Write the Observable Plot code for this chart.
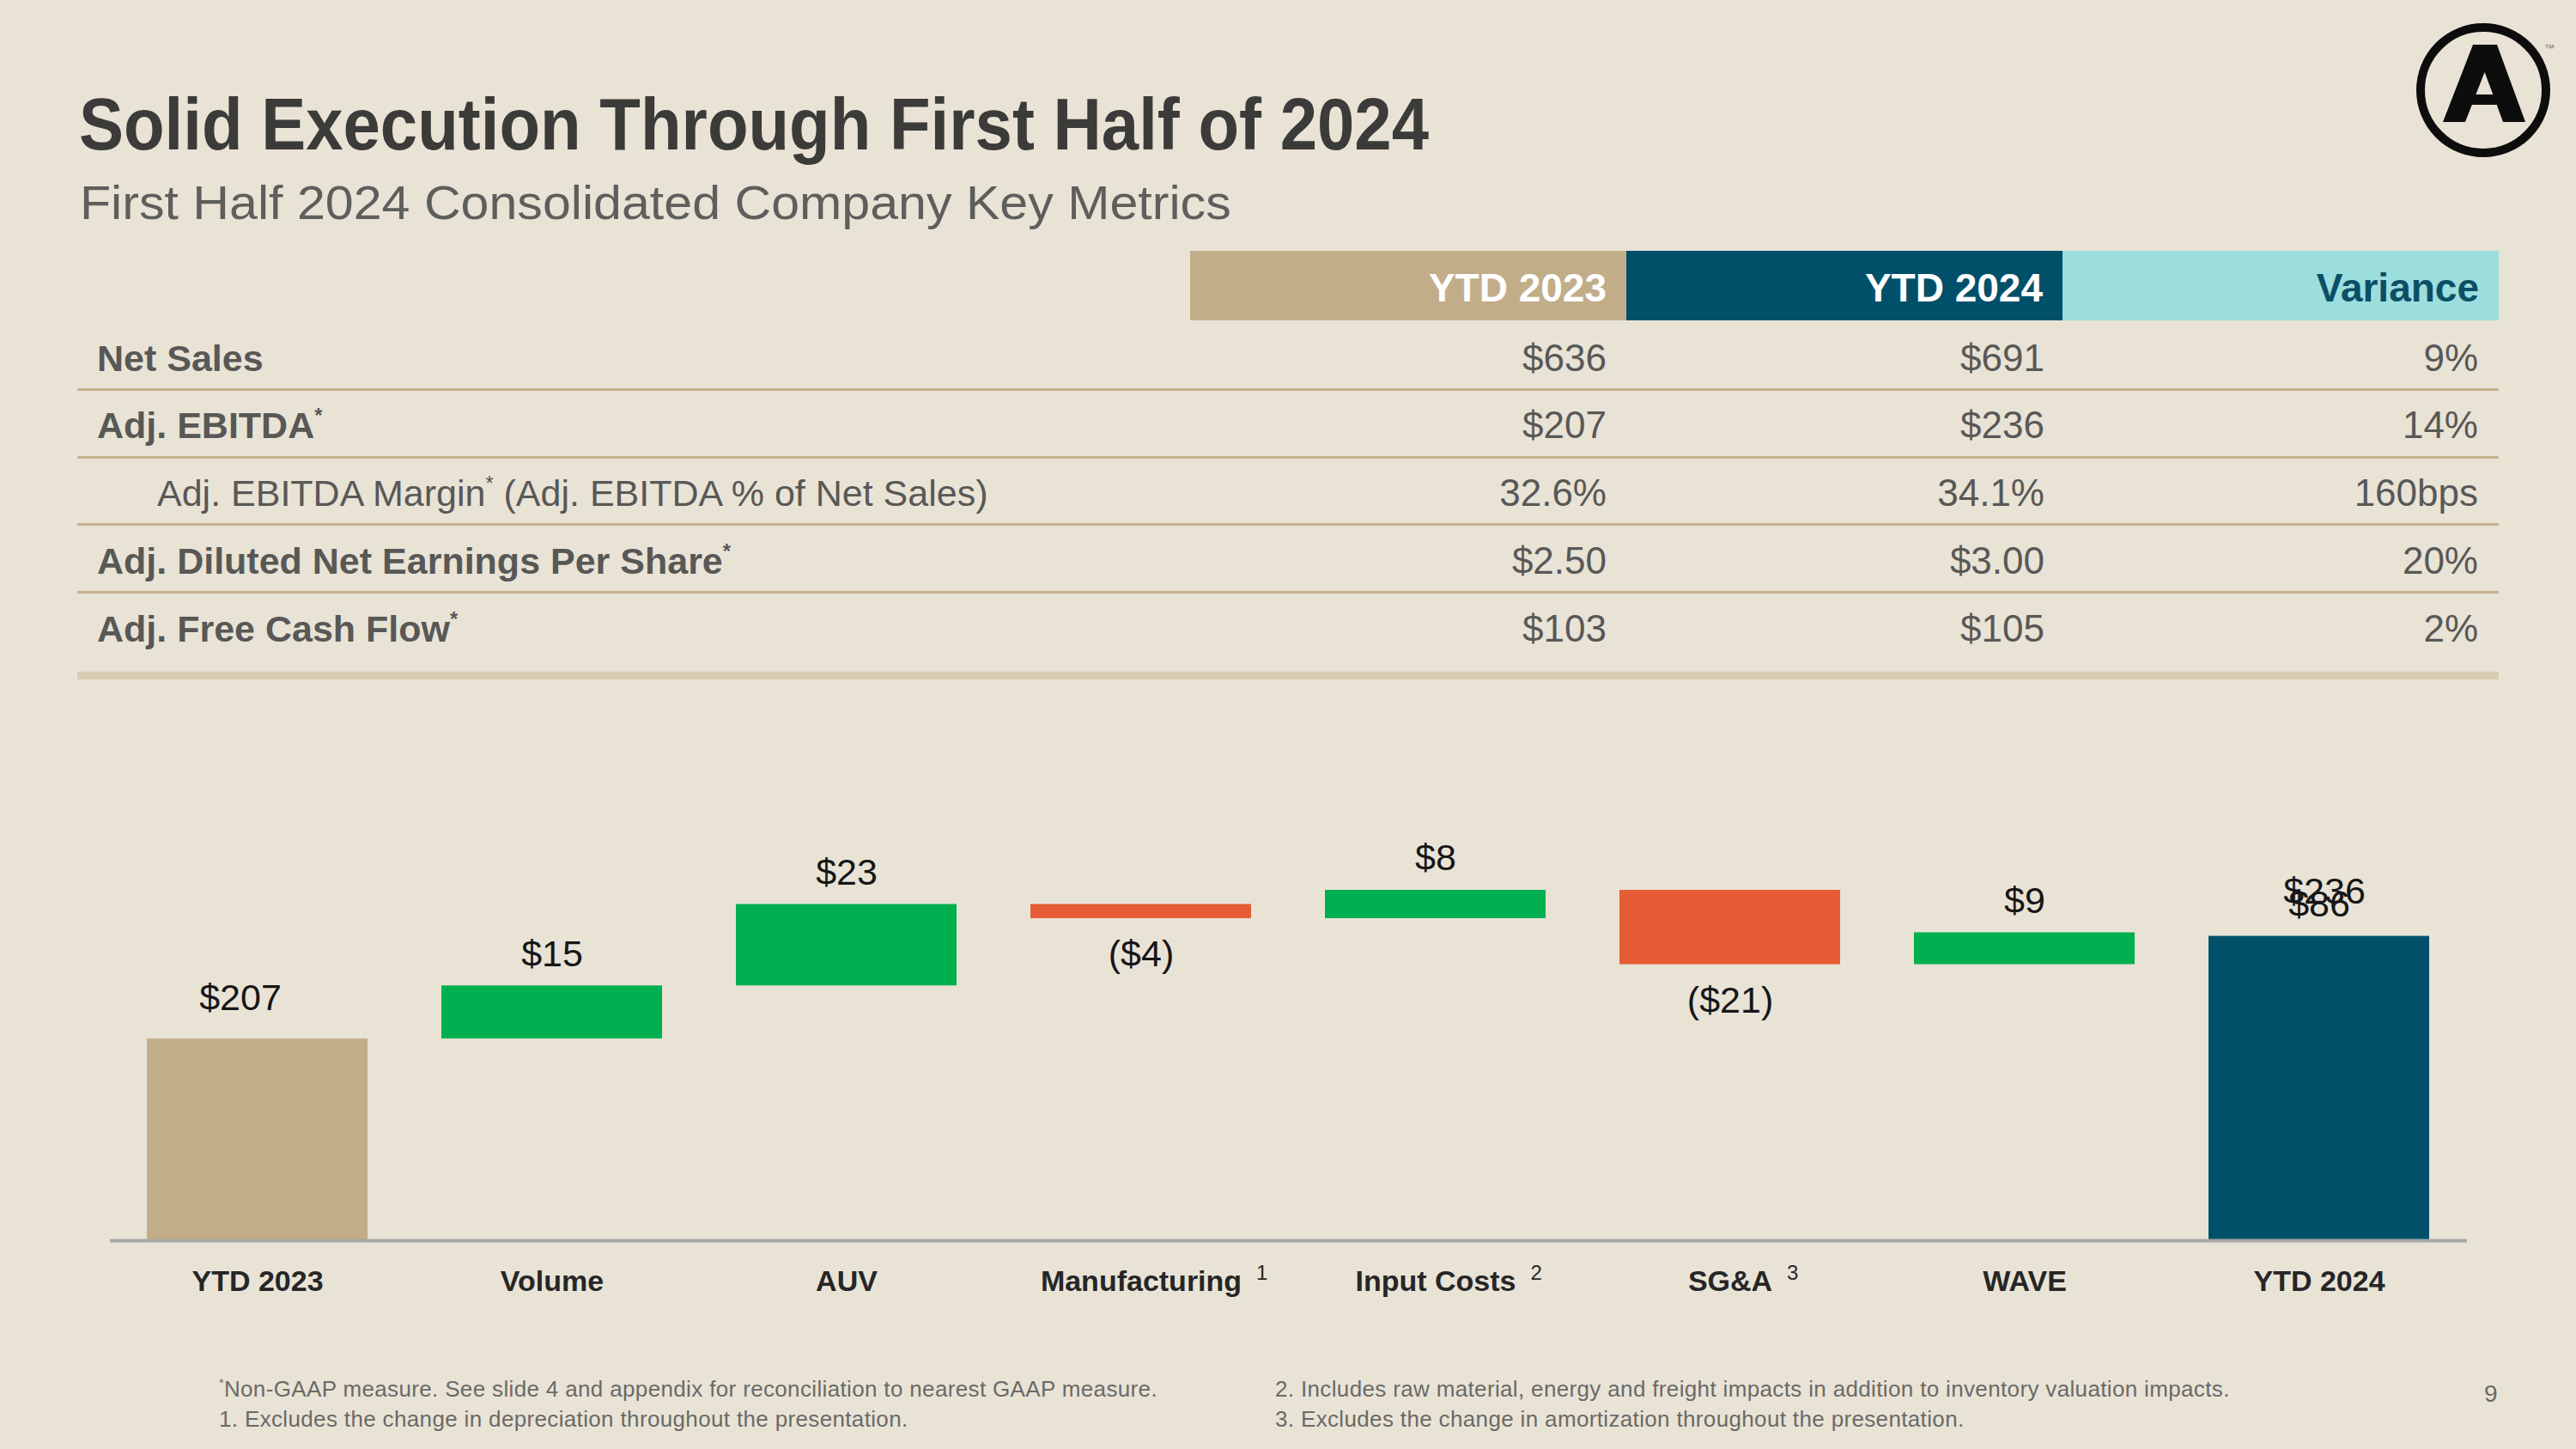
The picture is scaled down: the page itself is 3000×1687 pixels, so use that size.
<!DOCTYPE html>
<html>
<head>
<meta charset="utf-8">
<script src="https://cdn.jsdelivr.net/npm/d3@7"></script>
<script src="https://cdn.jsdelivr.net/npm/@observablehq/plot@0.6"></script>
<style>
  html, body { margin: 0; padding: 0; }
  body {
    width: 3000px; height: 1687px; position: relative; overflow: hidden;
    background: #e9e3d6;
    font-family: "Liberation Sans", sans-serif;
  }
  .abs { position: absolute; white-space: nowrap; line-height: 1; }
  sup { font-size: 0.55em; line-height: 0; vertical-align: 0.75em; }
  #title { left: 92px; top: 102px; font-size: 85px; font-weight: bold; color: #3b3b39;
           transform: scaleX(0.917); transform-origin: 0 0; }
  #subtitle { left: 93px; top: 209px; font-size: 55px; color: #5e5e5c;
              transform: scaleX(1.075); transform-origin: 0 0; }
  .hcell { position: absolute; top: 292px; height: 81px; line-height: 86px; text-align: right;
           box-sizing: border-box; padding-right: 23px; font-size: 46px; font-weight: bold; }
  .rowlabel { font-size: 43px; color: #585856; }
  .val { font-size: 44px; color: #585856; text-align: right; }
  .sep { position: absolute; left: 90px; width: 2820px; height: 3px; background: #c6b291; }
  #bottombar { position: absolute; left: 90px; width: 2820px; top: 782px; height: 9px; background: #d9ccb2; }
  .foot { font-size: 26px; letter-spacing: 0.35px; color: #6a6a66; }
  #chart { position: absolute; left: 0; top: 900px; }
</style>
</head>
<body>
<div id="title" class="abs">Solid Execution Through First Half of 2024</div>
<div id="subtitle" class="abs">First Half 2024 Consolidated Company Key Metrics</div>

<svg id="logo" width="3000" height="200" style="position:absolute;left:0;top:0;overflow:visible">
  <circle cx="2892" cy="105" r="73" fill="none" stroke="#0d0d0d" stroke-width="10"></circle>
  <path fill="#0d0d0d" fill-rule="evenodd"
        d="M2845,142 L2880,52 L2908,52 L2941,142 L2915,142 L2907.7,122 L2878.8,122 L2871,142 Z M2883.4,110 L2893.6,84 L2903.3,110 Z"></path>
  <text x="2963" y="60" font-family="Liberation Sans" font-size="12" fill="#777">™</text>
</svg>

<div id="table"></div>
<div id="chart"></div>
<div id="footer"></div>

<script>
// ---------- Table data ----------
const tableHeaders = ["YTD 2023", "YTD 2024", "Variance"];
const metricNames = ["Net Sales", "Adj. EBITDA", "Adj. EBITDA Margin", "Adj. Diluted Net Earnings Per Share", "Adj. Free Cash Flow"];
const metricAfterStar = ["", "", " (Adj. EBITDA % of Net Sales)", "", ""];
const metricStar = [false, true, true, true, true];
const metricBold = [true, true, false, true, true];
const metricIndent = [false, false, true, false, false];
const ytd2023Values = ["$636", "$207", "32.6%", "$2.50", "$103"];
const ytd2024Values = ["$691", "$236", "34.1%", "$3.00", "$105"];
const varianceValues = ["9%", "14%", "160bps", "20%", "2%"];

// ---------- Waterfall data ----------
const steps = ["YTD 2023", "Volume", "AUV", "Manufacturing", "Input Costs", "SG&A", "WAVE", "YTD 2024"];
const stepNotes = ["", "", "", "1", "2", "3", "", ""];
const stepValues = [207, 15, 23, -4, 8, -21, 9, 236];
const stepIsTotal = [true, false, false, false, false, false, false, true];
const axisMin = 150; // value axis starts at 150 (broken axis in the source)

// ---------- Footnotes ----------
const footLeft = ["Non-GAAP measure. See slide 4 and appendix for reconciliation to nearest GAAP measure.",
                  "1. Excludes the change in depreciation throughout the presentation."];
const footRight = ["2. Includes raw material, energy and freight impacts in addition to inventory valuation impacts.",
                   "3. Excludes the change in amortization throughout the presentation."];
const pageNumber = "9";

// ---------- Build table ----------
const table = document.getElementById("table");
const headerStyles = [
  {left: 1386, width: 508, bg: "#c2ad89", color: "#ffffff"},
  {left: 1894, width: 508, bg: "#00506a", color: "#ffffff"},
  {left: 2402, width: 508, bg: "#9cdedd", color: "#0b4f66"}
];
tableHeaders.forEach((h, i) => {
  const d = document.createElement("div");
  d.className = "hcell";
  d.style.left = headerStyles[i].left + "px";
  d.style.width = headerStyles[i].width + "px";
  d.style.background = headerStyles[i].bg;
  d.style.color = headerStyles[i].color;
  d.textContent = h;
  table.appendChild(d);
});
const rowBaselines = [432, 510, 589, 668, 747];
const valueRights = [1871, 2381, 2886];
const asc = 0.8465;
metricNames.forEach((name, i) => {
  const l = document.createElement("div");
  l.className = "abs rowlabel";
  l.style.left = (metricIndent[i] ? 183 : 113) + "px";
  l.style.top = (rowBaselines[i] - asc * 43) + "px";
  l.style.fontWeight = metricBold[i] ? "bold" : "normal";
  l.appendChild(document.createTextNode(name));
  if (metricStar[i]) { const s = document.createElement("sup"); s.textContent = "*"; l.appendChild(s); }
  if (metricAfterStar[i]) l.appendChild(document.createTextNode(metricAfterStar[i]));
  table.appendChild(l);
  [ytd2023Values, ytd2024Values, varianceValues].forEach((col, j) => {
    const v = document.createElement("div");
    v.className = "abs val";
    v.style.right = (3000 - valueRights[j]) + "px";
    v.style.top = (rowBaselines[i] - asc * 44) + "px";
    v.textContent = col[i];
    table.appendChild(v);
  });
});
[453, 532, 610, 689].forEach(y => {
  const s = document.createElement("div");
  s.className = "sep";
  s.style.top = (y - 1.5) + "px";
  table.appendChild(s);
});
const bb = document.createElement("div"); bb.id = "bottombar"; table.appendChild(bb);

// ---------- Build waterfall ----------
const fmt = v => v < 0 ? `($${Math.abs(v)})` : `$${v}`;
let running = 0;
const bars = steps.map((s, i) => {
  const v = stepValues[i];
  let y1, y2, color;
  if (stepIsTotal[i]) {
    y1 = axisMin; y2 = v; running = v;
    color = i === 0 ? "#c2ad89" : "#00506a";
  } else {
    y1 = running; y2 = running + v; running = y2;
    color = v >= 0 ? "#00b050" : "#e65c35";
  }
  return {step: s, value: v, y1, y2, top: Math.max(y1, y2), bottom: Math.min(y1, y2), color, total: stepIsTotal[i], label: fmt(v)};
});
const deltaUp = bars.filter(d => !d.total && d.value >= 0);
const deltaDown = bars.filter(d => !d.total && d.value < 0);
const firstTotal = bars.filter((d, i) => d.total && i === 0);
const lastTotal = bars.filter((d, i) => d.total && i === bars.length - 1);
const lastStack = lastTotal.map(d => ({...d, label: fmt(d.value - axisMin)}));

const labelFont = 43;
const tickFont = 34;
const chart = Plot.plot({
  width: 3000,
  height: 640,
  marginLeft: 128,
  marginRight: 127,
  marginTop: 0,
  marginBottom: 96,
  style: {background: "transparent", fontFamily: '"Liberation Sans", sans-serif', overflow: "visible"},
  x: {domain: steps, paddingInner: 0.25, paddingOuter: 0.125, label: null},
  y: {domain: [axisMin, 282], axis: null},
  color: {type: "identity"},
  marks: [
    Plot.barY(bars, {x: "step", y1: "y1", y2: "y2", fill: "color"}),
    Plot.ruleY([axisMin], {stroke: "#a8a8a6", strokeWidth: 4}),
    Plot.text(deltaUp, {x: "step", y: "top", text: "label", dy: -37, fontSize: labelFont, fill: "#161616"}),
    Plot.text(deltaDown, {x: "step", y: "bottom", text: "label", dy: 42, fontSize: labelFont, fill: "#161616"}),
    Plot.text(firstTotal, {x: "step", y: "top", text: "label", dx: -20, dy: -47, fontSize: labelFont, fill: "#161616"}),
    Plot.text(lastStack, {x: "step", y: "top", text: "label", dy: -37, fontSize: labelFont, fill: "#161616"}),
    Plot.text(lastTotal, {x: "step", y: "top", text: "label", dx: 6, dy: -52, fontSize: labelFont, fill: "#161616"}),
    Plot.axisX({tickSize: 0, tickPadding: 34, fontSize: tickFont, fontWeight: "bold", color: "#262626", label: null})
  ]
});
document.getElementById("chart").appendChild(chart);

// superscript footnote markers hanging to the right of the centred tick labels
d3.select(chart).selectAll('g[aria-label="x-axis tick label"] text').each(function() {
  const name = this.textContent;
  const note = stepNotes[steps.indexOf(name)];
  if (!note) return;
  const w = this.getComputedTextLength();
  const sup = this.cloneNode(false);
  sup.removeAttribute("dy");
  sup.setAttribute("y", String(0.71 * tickFont - 13));
  sup.setAttribute("dx", String(w / 2 + 17));
  sup.setAttribute("text-anchor", "start");
  sup.setAttribute("font-size", "24");
  sup.setAttribute("font-weight", "normal");
  sup.textContent = note;
  this.parentNode.appendChild(sup);
});

// ---------- Footnotes ----------
const footer = document.getElementById("footer");
const fFs = 26;
const footBase = [1626, 1661];
footLeft.forEach((t, i) => {
  const d = document.createElement("div");
  d.className = "abs foot";
  d.style.left = "255px";
  d.style.top = (footBase[i] - asc * fFs) + "px";
  if (i === 0) { const s = document.createElement("sup"); s.textContent = "*"; d.appendChild(s); }
  d.appendChild(document.createTextNode(t));
  footer.appendChild(d);
});
footRight.forEach((t, i) => {
  const d = document.createElement("div");
  d.className = "abs foot";
  d.style.left = "1485px";
  d.style.top = (footBase[i] - asc * fFs) + "px";
  d.textContent = t;
  footer.appendChild(d);
});
const pn = document.createElement("div");
pn.className = "abs foot";
pn.style.left = "2893px";
pn.style.fontSize = "28px";
pn.style.top = (1633 - asc * 28) + "px";
pn.textContent = pageNumber;
footer.appendChild(pn);
</script>
</body>
</html>
